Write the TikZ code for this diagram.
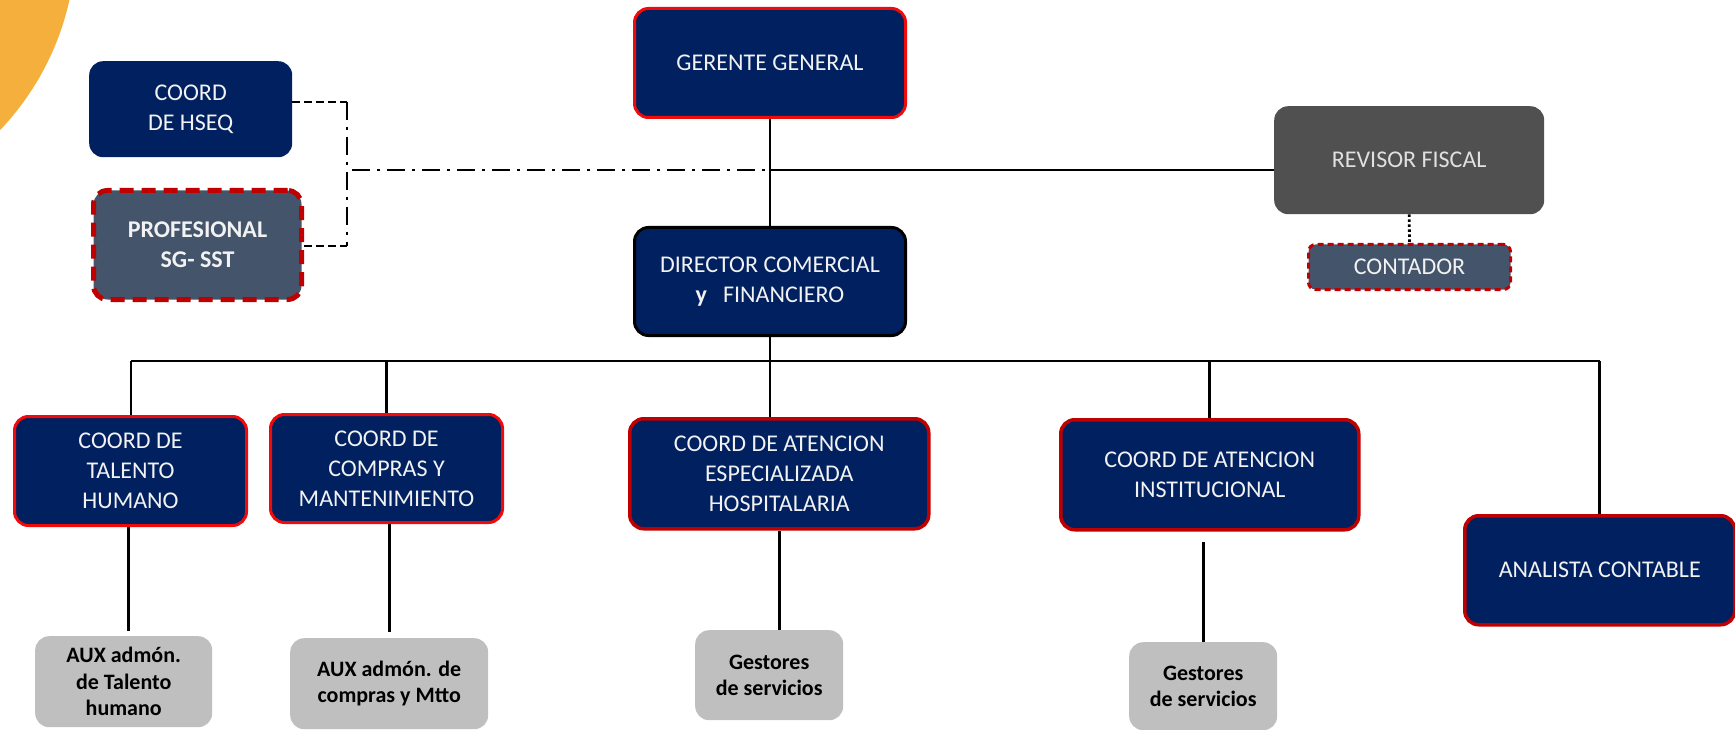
\documentclass[tikz,border=0pt]{standalone}
\usepackage{fontspec}
\setmainfont{Carlito}
\definecolor{navy}{HTML}{002060}
\definecolor{slate}{HTML}{44546A}
\definecolor{dred}{HTML}{C00000}
\definecolor{bred}{HTML}{F00A0A}
\definecolor{rgray}{HTML}{505050}
\definecolor{lgray}{HTML}{BFBFBF}
\definecolor{orng}{HTML}{F5AF3C}
\definecolor{txt}{HTML}{F2F2F2}
\begin{document}
\begin{tikzpicture}[x=1pt,y=-1pt,
  base/.style={anchor=north west, rounded corners=14pt, align=center, inner sep=0pt, font=\fontsize{24}{30}\selectfont},
  navybox/.style={base, fill=navy, text=txt},
  redline/.style={draw=bred, line width=3pt},
  dredline/.style={draw=dred, line width=3.5pt},
  graybox/.style={base, fill=lgray, text=black, font=\fontsize{22}{26.5}\selectfont\bfseries},
  conn/.style={line width=2.8pt, black},
  hdash/.style={line width=2.6pt, dash pattern=on 8pt off 4pt},
  ddot/.style={line width=2.6pt, dash pattern=on 18pt off 7pt on 3pt off 7pt},
  sz/.style 2 args={minimum width=#1pt, minimum height=#2pt}]
\useasboundingbox (0,0) rectangle (1735,730);
\begin{scope}
  \clip (0,0) rectangle (1735,730);
  \fill[orng] (-200,-60) circle[radius=276pt];
\end{scope}

% top
\node[navybox, sz={203}{96}] (hseq) at (89,61) {COORD\\DE HSEQ};
\node[base, fill=slate, text=txt, font=\fontsize{24}{30}\selectfont\bfseries, draw=dred, line width=5pt, dash pattern=on 14pt off 8pt, sz={208}{109}] (prof) at (91,188) {PROFESIONAL\\SG- SST};
\node[navybox, redline, sz={271}{109}] (ger) at (633,7) {GERENTE GENERAL};
\node[navybox, draw=black, line width=3pt, sz={271}{108}] (dir) at (633,226) {DIRECTOR COMERCIAL\\\textbf{y}\hspace{16pt}FINANCIERO};
\node[base, fill=rgray, text=black!12, sz={270}{108}] (rev) at (1274,106) {REVISOR FISCAL};
\node[base, rounded corners=7pt, fill=slate, text=txt, draw=dred, line width=3pt, dash pattern=on 6pt off 4pt, sz={202}{45}] (cont) at (1307,243) {CONTADOR};

% coordinators
\node[navybox, redline, sz={232}{109}] (tal) at (13,415) {COORD DE\\TALENTO\\HUMANO};
\node[navybox, redline, sz={232}{108}] (comp) at (269,413) {COORD DE\\COMPRAS Y\\MANTENIMIENTO};
\node[navybox, dredline, sz={299}{110}] (esp) at (628,417) {COORD DE ATENCION\\ESPECIALIZADA\\HOSPITALARIA};
\node[navybox, dredline, sz={298}{110}] (inst) at (1059,418) {COORD DE ATENCION\\INSTITUCIONAL};
\node[navybox, dredline, sz={270}{109}] (ana) at (1463,514) {ANALISTA CONTABLE};

% bottom
\node[graybox, sz={177}{91}] (auxt) at (35,636) {AUX admón.\\de Talento\\humano};
\node[graybox, sz={198}{91}] (auxc) at (290,638) {AUX admón. de\\compras y Mtto};
\node[graybox, sz={148}{90}] (ges1) at (695,630) {Gestores\\de servicios};
\node[graybox, sz={148}{88}] (ges2) at (1129,642) {Gestores\\de servicios};

% coordinates
\coordinate (j1) at (347,102);
\coordinate (j2) at (347,246);
\coordinate (h) at (352,170);
\coordinate (bus) at (0,361);

% connectors top
\draw[hdash] (hseq.east |- j1) -- (j1);
\draw[hdash] (prof.east |- j2) -- (j2);
\draw[ddot] (j1) -- (j2);
\draw[ddot] (h) -- (ger.south |- h);
\draw[conn] (ger.south |- h) -- (rev.west |- h);
\draw[conn] (ger.south) -- (dir.north);
\draw[line width=2.8pt, dash pattern=on 2.5pt off 2.5pt] (rev.south) -- (cont.north);

% bus
\draw[conn] (dir.south) -- (dir.south |- bus);
\draw[conn] (131,361) coordinate (bl) -- (ana.north |- bus);
\draw[conn] (bl) -- (tal.north -| bl);
\draw[conn] (comp.north |- bus) -- (comp.north);
\draw[conn] (dir.south |- bus) -- (dir.south |- esp.north);
\draw[conn] (inst.north |- bus) -- (inst.north);
\draw[conn] (ana.north |- bus) -- (ana.north);

% lower connectors
\draw[conn] ([xshift=5pt]auxt.north |- tal.south) -- ([xshift=5pt,yshift=5pt]auxt.north);
\draw[conn] (auxc.north |- comp.south) -- ([yshift=6pt]auxc.north);
\draw[conn] (esp.south) -- (esp.south |- ges1.north);
\draw[conn] ([yshift=-10pt]ges2.north |- inst.south) -- (ges2.north);
\end{tikzpicture}
\end{document}
